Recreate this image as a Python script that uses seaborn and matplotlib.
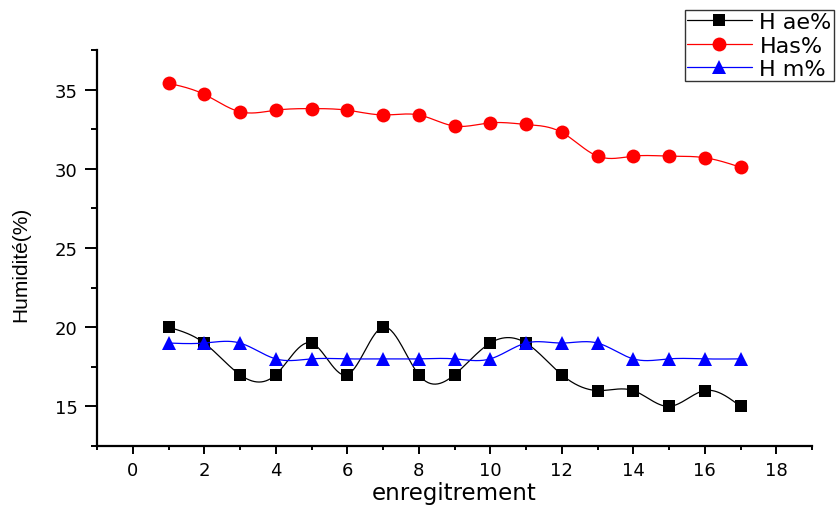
import numpy as np
import pandas as pd
import matplotlib
matplotlib.use("Agg")
import matplotlib.pyplot as plt
import seaborn as sns
from matplotlib.ticker import MultipleLocator
from matplotlib.lines import Line2D

x = list(range(1, 18))
h_ae = [20, 19, 17, 17, 19, 17, 20, 17, 17, 19, 19, 17, 16, 16, 15, 16, 15]
h_as = [35.4, 34.7, 33.6, 33.7, 33.8, 33.7, 33.4, 33.4, 32.7, 32.9, 32.8, 32.3,
        30.8, 30.8, 30.8, 30.7, 30.1]
h_m = [19, 19, 19, 18, 18, 18, 18, 18, 18, 18, 19, 19, 19, 18, 18, 18, 18]
labels = ["H ae%", "Has%", "H m%"]


def natural_spline(xs, ys, n=30):
    xs = np.asarray(xs, float)
    ys = np.asarray(ys, float)
    k = len(xs)
    h = np.diff(xs)
    A = np.zeros((k, k))
    b = np.zeros(k)
    A[0, 0] = A[-1, -1] = 1
    for i in range(1, k - 1):
        A[i, i - 1] = h[i - 1]
        A[i, i] = 2 * (h[i - 1] + h[i])
        A[i, i + 1] = h[i]
        b[i] = 6 * ((ys[i + 1] - ys[i]) / h[i] - (ys[i] - ys[i - 1]) / h[i - 1])
    M = np.linalg.solve(A, b)
    xo, yo = [], []
    for i in range(k - 1):
        t = np.linspace(xs[i], xs[i + 1], n, endpoint=False)
        a = xs[i + 1] - t
        c = t - xs[i]
        y = (M[i] * a ** 3 + M[i + 1] * c ** 3) / (6 * h[i]) \
            + (ys[i] / h[i] - M[i] * h[i] / 6) * a \
            + (ys[i + 1] / h[i] - M[i + 1] * h[i] / 6) * c
        xo.extend(t)
        yo.extend(y)
    xo.append(xs[-1])
    yo.append(ys[-1])
    return np.array(xo), np.array(yo)


sns.set_style("ticks")
plt.rcParams['font.family'] = ['DejaVu Sans']
plt.rcParams['text.color'] = 'black'
plt.rcParams['axes.labelcolor'] = 'black'

fig = plt.figure(figsize=(8.36, 5.06), dpi=100)
ax = fig.add_axes([97 / 836, 59 / 506, (812 - 97) / 836, (447 - 51) / 506])

series = [(h_ae, "black", "s", 9), (h_as, "red", "o", 10), (h_m, "blue", "^", 10)]
handles = []
for (ys, col, mk, ms), lab in zip(series, labels):
    sx, sy = natural_spline(x, ys)
    sns.lineplot(x=sx, y=sy, color=col, linewidth=0.9, ax=ax, sort=False,
                 estimator=None)
    ax.plot(x, ys, linestyle="none", marker=mk, color=col, markersize=ms,
            markeredgewidth=0)
    handles.append(Line2D([0], [0], color=col, lw=0.9, marker=mk,
                          markersize=ms, markeredgewidth=0))

ax.set_xlim(-1, 19)
ax.set_ylim(12.5, 37.5)
ax.xaxis.set_major_locator(MultipleLocator(2))
ax.xaxis.set_minor_locator(MultipleLocator(1))
ax.yaxis.set_major_locator(MultipleLocator(5))
ax.yaxis.set_minor_locator(MultipleLocator(2.5))
ax.set_xticks([0, 2, 4, 6, 8, 10, 12, 14, 16, 18])
ax.set_yticks([15, 20, 25, 30, 35])
ax.tick_params(axis="both", which="both", direction="out", width=1.4,
               labelsize=13, colors="black", pad=5)
ax.tick_params(axis="y", which="major", length=9)
ax.tick_params(axis="y", which="minor", length=4.5)
ax.tick_params(axis="x", which="major", length=5.5)
ax.tick_params(axis="x", which="minor", length=3)
for s in ["top", "right"]:
    ax.spines[s].set_visible(False)
for s in ["left", "bottom"]:
    ax.spines[s].set_linewidth(1.6)
    ax.spines[s].set_color("black")

ax.set_xlabel("enregitrement", fontsize=16.5, labelpad=2, color="black")
ax.set_ylabel("Humidité(%)", fontsize=15, color="black",
              family=["Liberation Sans", "DejaVu Sans"])
ax.yaxis.set_label_coords(-0.093, 0.462)

leg = fig.legend(handles, labels, loc="upper left",
                 bbox_to_anchor=(685 / 836, 1 - 11 / 506), frameon=True,
                 fontsize=16, handlelength=2.9, borderpad=0.1,
                 labelspacing=0.15, handletextpad=0.35, borderaxespad=0,
                 fancybox=False)
leg.get_frame().set_edgecolor("black")
leg.get_frame().set_linewidth(1.0)
for t in leg.get_texts():
    t.set_color("black")

fig.savefig("out.png", dpi=100)
